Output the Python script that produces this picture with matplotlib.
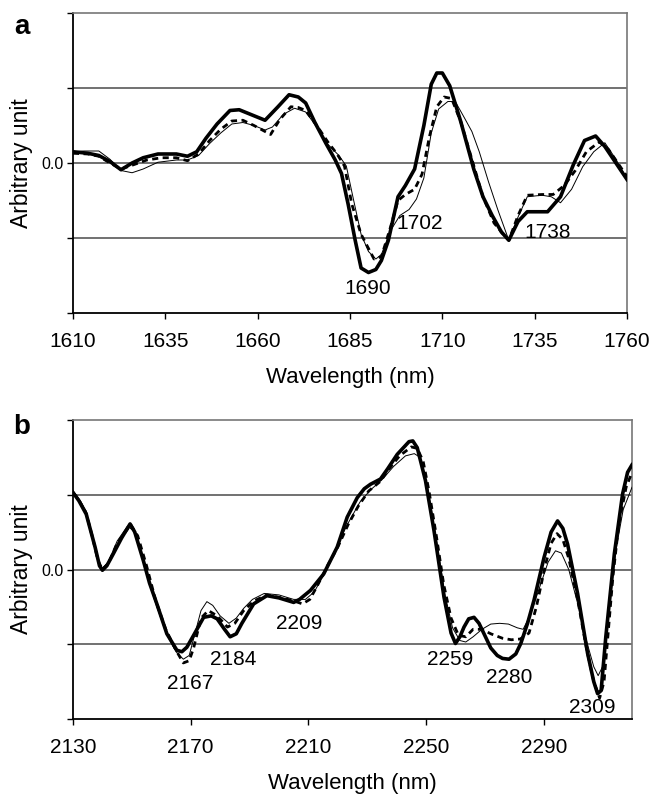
import numpy as np
import matplotlib.pyplot as plt

plt.rcParams["font.family"] = ["Liberation Sans", "DejaVu Sans"]

# %% Panel a data (second derivative spectra, gridline units)
wl_a_thick = [1610, 1614, 1617, 1620, 1623, 1626, 1629, 1633, 1638, 1641, 1643.5, 1646, 1649,
              1652.5, 1655, 1658, 1662, 1665.5, 1668.5, 1671, 1673, 1675.5, 1678.5, 1681, 1682.7,
              1684.5, 1686.4, 1688, 1690, 1692, 1693.5, 1695.4, 1698, 1700, 1702.5, 1705, 1707,
              1708.5, 1710, 1712, 1715, 1718.5, 1721, 1723.5, 1726, 1728, 1730.5, 1733, 1738.5,
              1742, 1745.5, 1748.5, 1751.5, 1754, 1757, 1760]
val_a_thick = [0.15, 0.13, 0.10, 0.02, -0.09, 0.0, 0.07, 0.12, 0.12, 0.09, 0.15, 0.33, 0.52,
               0.70, 0.71, 0.65, 0.57, 0.75, 0.91, 0.88, 0.80, 0.54, 0.26, 0.04, -0.14,
               -0.55, -1.03, -1.40, -1.46, -1.42, -1.30, -1.03, -0.45, -0.30, -0.08, 0.50, 1.05,
               1.20, 1.20, 1.03, 0.55, -0.08, -0.45, -0.70, -0.92, -1.03, -0.78, -0.65, -0.65,
               -0.45, -0.02, 0.30, 0.36, 0.22, 0.0, -0.22]

wl_a_dash = [1610, 1614, 1617, 1620, 1623, 1626, 1630, 1634, 1638, 1641, 1644, 1647, 1650, 1653,
             1656, 1659, 1662, 1663.5, 1666, 1669, 1671, 1673, 1676, 1679, 1681.5, 1683.5, 1685.5,
             1688, 1691.5, 1693.5, 1696, 1698, 1700, 1702.5, 1704.5, 1706.5, 1708.5, 1710.5,
             1712.5, 1715, 1718, 1721, 1724, 1726.5, 1728, 1730.5, 1733, 1737, 1740, 1743, 1746,
             1749, 1752.5, 1755, 1757.5, 1760]
val_a_dash = [0.13, 0.12, 0.09, 0.0, -0.08, -0.03, 0.04, 0.07, 0.07, 0.03, 0.12, 0.30, 0.45, 0.56,
              0.57, 0.50, 0.42, 0.38, 0.58, 0.75, 0.74, 0.70, 0.50, 0.28, 0.12, -0.04, -0.55,
              -0.95, -1.28, -1.25, -0.85, -0.50, -0.42, -0.35, -0.15, 0.35, 0.75, 0.88,
              0.86, 0.55, 0.05, -0.45, -0.80, -0.95, -1.03, -0.70, -0.43, -0.42, -0.42, -0.30, -0.10,
              0.15, 0.28, 0.18, 0.0, -0.18]

wl_a_thin = [1610, 1613, 1617, 1620, 1623, 1626, 1629, 1633, 1638, 1641, 1644, 1647, 1650, 1653,
             1656, 1659, 1662, 1664, 1667, 1670, 1673, 1676, 1679, 1682, 1684, 1686, 1688, 1690,
             1692, 1693.5, 1696, 1698.5, 1701, 1703, 1705, 1707, 1709, 1711.5, 1713.5, 1716, 1718,
             1720, 1722.5, 1725, 1728, 1730.5, 1733, 1737, 1739.5, 1742, 1745, 1748, 1751, 1754,
             1757, 1760]
val_a_thin = [0.15, 0.16, 0.16, 0.05, -0.10, -0.13, -0.08, 0.01, 0.04, 0.04, 0.10, 0.26, 0.40, 0.52,
              0.54, 0.50, 0.44, 0.48, 0.65, 0.73, 0.68, 0.48, 0.25, 0.10, -0.04, -0.50, -0.95, -1.18,
              -1.28, -1.22, -0.90, -0.70, -0.62, -0.48, -0.20, 0.40, 0.72, 0.82, 0.82, 0.60, 0.42,
              0.15, -0.25, -0.62, -1.03, -0.72, -0.45, -0.43, -0.45, -0.53, -0.35, -0.05, 0.15, 0.27,
              0.05, -0.22]

peaks_a = ["1690", "1702", "1738"]
peaks_a_x = [1689.7, 1703.9, 1738.6]
peaks_a_y = [-1.68, -0.81, -0.92]

# %% Panel b data
wl_b_thick = [2130, 2132, 2134.5, 2136, 2137.5, 2139, 2140, 2141.5, 2143.7, 2146.5, 2149.4, 2151,
              2153.9, 2156, 2158.5, 2161.9, 2165.3, 2167, 2168.7, 2171, 2174.4, 2177, 2179, 2181.5,
              2183.4, 2185.5, 2187.4, 2191.4, 2195.9, 2200, 2205, 2207, 2210.7, 2215.2, 2219.8,
              2223.2, 2226.6, 2229, 2231.1, 2234.5, 2237, 2240.2, 2244.2, 2245.5, 2247, 2249.8,
              2252.7, 2256.1, 2258.5, 2260, 2261.5, 2262.9, 2264.5, 2266.3, 2268, 2269.7, 2272,
              2274.2, 2276, 2278.2, 2280.5, 2282.2, 2284.5, 2286.7, 2290.1, 2292.5, 2294.7, 2296.5,
              2298.1, 2301.5, 2304.9, 2307, 2308.3, 2309.5, 2311.1, 2314, 2316.8, 2318.5, 2320]
val_b_thick = [1.03, 0.92, 0.74, 0.52, 0.30, 0.05, -0.01, 0.05, 0.21, 0.42, 0.61, 0.50,
               0.12, -0.18, -0.46, -0.86, -1.08, -1.10, -1.04, -0.88, -0.64, -0.62, -0.66, -0.80,
               -0.90, -0.86, -0.72, -0.46, -0.35, -0.38, -0.44, -0.40, -0.28, -0.06, 0.30,
               0.70, 0.96, 1.08, 1.14, 1.21, 1.35, 1.54, 1.71, 1.72, 1.63, 1.19,
               0.52, -0.37, -0.85, -0.99, -0.90, -0.77, -0.66, -0.64, -0.72, -0.86, -1.05,
               -1.15, -1.19, -1.20, -1.13, -0.99, -0.72, -0.41, 0.16, 0.50, 0.65, 0.55,
               0.34, -0.32, -1.12, -1.50, -1.66, -1.62, -0.90, 0.21, 1.01, 1.30, 1.40]

wl_b_dash = [2130, 2132, 2134.5, 2136.5, 2138.5, 2140, 2142, 2145, 2149.6, 2152, 2155, 2158, 2161.5,
             2165, 2167.5, 2169.5, 2171, 2173.5, 2176, 2179, 2182.5, 2185, 2188, 2191.5, 2196, 2201,
             2205, 2208, 2210.5, 2213, 2216.5, 2220, 2223.5, 2227, 2230.5, 2234.5, 2237.5, 2241,
             2245, 2247, 2249, 2251, 2253.5, 2256, 2258.5, 2261, 2263.5, 2266, 2269, 2272, 2276,
             2279, 2282, 2285, 2287.5, 2290.5, 2292.5, 2294.5, 2296.5, 2298.5, 2301.5, 2304.5, 2307,
             2309, 2310.5, 2312, 2313.5, 2315.5, 2318, 2320]
val_b_dash = [1.03, 0.93, 0.75, 0.45, 0.12, 0.0, 0.08, 0.35, 0.60, 0.45, 0.05, -0.40, -0.80,
              -1.08, -1.25, -1.22, -1.05, -0.65, -0.55, -0.62, -0.77, -0.72, -0.55, -0.42, -0.34, -0.38,
              -0.42, -0.46, -0.40, -0.22, 0.05, 0.30, 0.60, 0.85, 1.05, 1.18, 1.35, 1.52,
              1.64, 1.62, 1.45, 1.05, 0.45, -0.20, -0.65, -0.88, -0.90, -0.80, -0.80, -0.86, -0.92,
              -0.94, -0.93, -0.85, -0.50, 0.05, 0.35, 0.48, 0.40, 0.15, -0.40, -1.05, -1.50,
              -1.72, -1.50, -0.80, -0.10, 0.60, 1.10, 1.30]

wl_b_thin = [2130, 2132, 2134.5, 2136.5, 2138.5, 2140, 2142, 2145, 2148.5, 2150.5, 2153.5, 2156,
             2158.5, 2162, 2165, 2167.5, 2169.5, 2171.5, 2173.5, 2175.5, 2177.5, 2180, 2183, 2185.5,
             2188, 2191, 2195, 2200, 2205, 2209, 2212, 2215.5, 2219.5, 2223.5, 2227.5, 2231, 2235,
             2239, 2243, 2246, 2248, 2250.5, 2253.5, 2256.5, 2259, 2261.5, 2263.5, 2266, 2269, 2272,
             2275, 2278, 2281, 2283, 2285.5, 2288.5, 2291.5, 2294, 2296, 2298.5, 2301.5, 2304.5,
             2307, 2308.5, 2310, 2312, 2314.5, 2317, 2320]
val_b_thin = [1.05, 0.95, 0.78, 0.45, 0.10, 0.02, 0.10, 0.38, 0.58, 0.52, 0.20, -0.20,
              -0.50, -0.88, -1.10, -1.20, -1.15, -0.85, -0.55, -0.43, -0.48, -0.62, -0.72, -0.65,
              -0.52, -0.40, -0.32, -0.34, -0.40, -0.40, -0.30, -0.05, 0.30, 0.62, 0.90, 1.06, 1.20,
              1.38, 1.52, 1.55, 1.50, 1.10, 0.40, -0.35, -0.78, -0.95, -0.97, -0.90, -0.80, -0.73,
              -0.72, -0.73, -0.78, -0.80, -0.60, -0.25, 0.10, 0.25, 0.22, 0.0, -0.45, -0.95,
              -1.30, -1.42, -1.30, -0.60, 0.25, 0.80, 1.10]

peaks_b = ["2167", "2184", "2209", "2259", "2280", "2309"]
peaks_b_x = [2170.0, 2184.5, 2206.9, 2258.2, 2278.4, 2306.6]
peaks_b_y = [-1.52, -1.20, -0.72, -1.21, -1.44, -1.84]

# %% Plot
fig = plt.figure(figsize=(6.53, 7.98), dpi=100)
ax_a = fig.add_axes([73 / 653, 1 - 313 / 798, 554 / 653, 300 / 798])
ax_b = fig.add_axes([73 / 653, 1 - 719 / 798, 559 / 653, 299 / 798])


def style_axis(ax, xlim, xticks, letter, letter_y, ylab_x):
    ax.set_xlim(*xlim)
    ax.set_ylim(-2, 2)
    ax.set_xticks(xticks)
    ax.set_yticks([-2, -1, 0, 1, 2])
    ax.set_yticklabels(["", "", "0.0", "", ""], fontsize=11.5)
    ax.tick_params(axis='x', labelsize=15, direction='out', length=4, width=1, pad=10)
    ax.tick_params(axis='y', direction='out', length=4, width=1, pad=3)
    for yv in [-1, 0, 1]:
        ax.axhline(yv, color='#4a4a4a', lw=1.1, zorder=1)
    ax.spines['left'].set_color('black')
    ax.spines['bottom'].set_color('black')
    ax.spines['left'].set_linewidth(1.3)
    ax.spines['bottom'].set_linewidth(1.3)
    ax.spines['top'].set_color('#777777')
    ax.spines['right'].set_color('#777777')
    ax.spines['top'].set_linewidth(1.2)
    ax.spines['right'].set_linewidth(1.2)
    ax.set_xlabel('Wavelength (nm)', fontsize=16, labelpad=11)
    ax.set_ylabel('Arbitrary unit', fontsize=16.5)
    ax.yaxis.set_label_coords(ylab_x, 0.5)
    ax.text(-0.092, letter_y, letter, transform=ax.transAxes, fontsize=20, fontweight='bold',
            ha='center', va='center')


def draw_curves(ax, wl1, v1, wl2, v2, wl3, v3):
    ax.plot(wl3, v3, color='black', lw=0.7, zorder=3)
    ax.plot(wl2, v2, color='black', lw=2.0, linestyle=(0, (2.2, 1.6)), zorder=4)
    ax.plot(wl1, v1, color='black', lw=2.6, solid_joinstyle='round', zorder=5)


draw_curves(ax_a, wl_a_thick, val_a_thick, wl_a_dash, val_a_dash, wl_a_thin, val_a_thin)
style_axis(ax_a, (1610, 1760), np.arange(1610, 1761, 25), 'a', 0.955, -0.072)
for lab, xx, yy in zip(peaks_a, peaks_a_x, peaks_a_y):
    ax_a.text(xx, yy, lab, fontsize=15, ha='center', va='center', zorder=6)

draw_curves(ax_b, wl_b_thick, val_b_thick, wl_b_dash, val_b_dash, wl_b_thin, val_b_thin)
style_axis(ax_b, (2130, 2320), np.arange(2130, 2300, 40), 'b', 0.975, -0.071)
for lab, xx, yy in zip(peaks_b, peaks_b_x, peaks_b_y):
    ax_b.text(xx, yy, lab, fontsize=15, ha='center', va='center', zorder=6)

plt.savefig('out.png', dpi=100)
